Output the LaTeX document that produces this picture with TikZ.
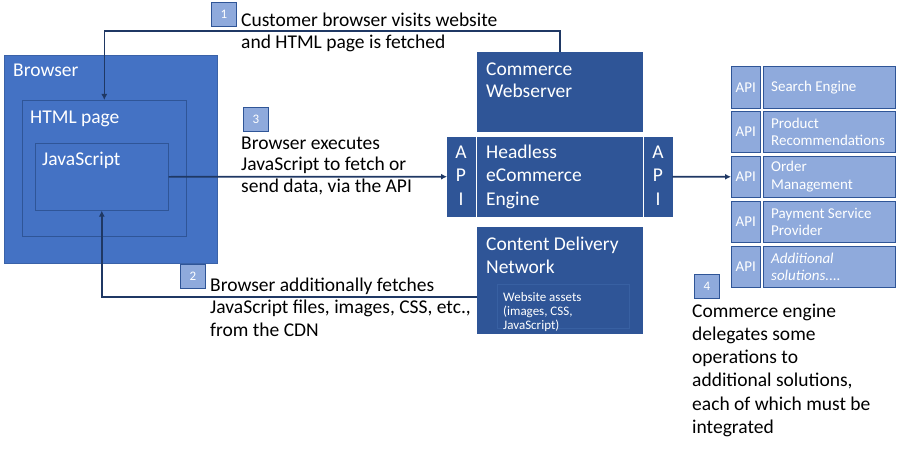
\documentclass[tikz,border=0pt]{standalone}
\usepackage{fontspec}
\setmainfont{Carlito}
\usetikzlibrary{arrows.meta,calc}
\definecolor{brblue}{HTML}{4472C4}
\definecolor{midblue}{HTML}{2F5597}
\definecolor{ltblue}{HTML}{8FAADC}
\definecolor{navy}{HTML}{1F3864}
\definecolor{edgeb}{HTML}{3A62A8}
\definecolor{faint}{HTML}{3860A2}
\begin{document}
\begin{tikzpicture}[x=1pt,y=-1pt,
  box/.style={draw=#1,fill=#1,minimum width=0pt,minimum height=0pt,inner sep=0pt,anchor=north west},
  frame/.style={draw=midblue,line width=0.6pt,inner sep=0pt,anchor=north west},
  wlbl/.style={text=white,font=\fontsize{19.5}{#1}\selectfont,align=left,inner sep=0pt,anchor=base west},
  wlbl/.default=23.2,
  slbl/.style={text=white,font=\fontsize{15}{17.5}\selectfont,align=left,inner sep=0pt,anchor=west},
  blbl/.style={text=black,font=\fontsize{19.5}{#1}\selectfont,align=left,inner sep=0pt,anchor=base west},
  blbl/.default=23.2,
  badge/.style={draw=midblue,fill=ltblue,line width=0.6pt,minimum width=25pt,minimum height=24pt,inner sep=0pt,anchor=north west,text=white,font=\fontsize{13}{15}\selectfont},
  svc/.style={draw=midblue,fill=ltblue,line width=0.6pt,inner sep=0pt,anchor=north west},
  conn/.style={draw=navy,line width=1.6pt},
  arr/.style={conn,-{Latex[length=6pt,width=6pt]}}
]
\useasboundingbox (0,0) rectangle (900,452);
% Browser
\node[box=brblue,draw=edgeb,minimum width=213pt,minimum height=208pt] (browser) at (4,55) {};
\node[wlbl] (tbrowser) at (13,77) {Browser};
\node[frame,minimum width=164pt,minimum height=136pt] (html) at (22,100) {};
\node[wlbl] (thtml) at (30,123) {HTML page};
\node[frame,minimum width=133pt,minimum height=67pt] (js) at (35,143) {};
\node[wlbl] (tjs) at (42,165) {JavaScript};
% middle
\node[box=midblue,minimum width=165pt,minimum height=79pt] (cws) at (477,52) {};
\node[wlbl=22] (tcws) at (486,97) {Commerce\\Webserver};
\node[box=midblue,minimum width=28pt,minimum height=79pt] (apil) at (447,137) {};
\node[wlbl=23.5,align=center,anchor=base] (tapil) at (461,205) {A\\P\\I};
\node[box=midblue,minimum width=165pt,minimum height=79pt] (hce) at (477,137) {};
\node[wlbl=23.5] (thce) at (486,205) {Headless\\eCommerce\\Engine};
\node[box=midblue,minimum width=28pt,minimum height=79pt] (apir) at (644,137) {};
\node[wlbl=23.5,align=center,anchor=base] (tapir) at (658,205) {A\\P\\I};
\node[box=midblue,minimum width=165pt,minimum height=106pt] (cdn) at (477,227) {};
\node[wlbl=23] (tcdn) at (486,273) {Content Delivery\\Network};
\node[draw=faint,line width=0.4pt,inner sep=0pt,anchor=north west,minimum width=132pt,minimum height=44pt] (assets) at (497,284) {};
\node[text=white,font=\fontsize{13}{14}\selectfont,align=left,inner sep=0pt,anchor=base west] (tassets) at (503,329) {Website assets\\(images, CSS,\\JavaScript)};
% services
\foreach \i/\ya/\yb/\t in {1/66/108/{Search Engine},2/111/152/{Product\\Recommendations},3/156/197/{Order\\Management},4/201/242/{Payment Service\\Provider},5/246/287/{\itshape Additional\\\itshape solutions....}}{
  \node[svc,minimum width=29pt,minimum height={\yb-\ya}] (api\i) at (731,\ya) {};
  \node[slbl,anchor=center] (tapi\i) at (api\i.center) {API};
  \node[svc,minimum width=132pt,minimum height={\yb-\ya}] (srv\i) at (763,\ya) {};
  \node[slbl] (tsrv\i) at ($(srv\i.west)+(8,0)$) {\t};
}
% badges and texts
\node[badge] (b1) at (211,2) {1};
\node[blbl=23] (t1) at (241,49) {Customer browser visits website\\and HTML page is fetched};
\node[badge] (b3) at (243,107) {3};
\node[blbl=21.7] (t3) at (241,192.4) {Browser executes\\JavaScript to fetch or\\send data, via the API};
\node[badge] (b2) at (180,264) {2};
\node[blbl=22.5] (t2) at (210,336) {Browser additionally fetches\\JavaScript files, images, CSS, etc.,\\from the CDN};
\node[badge] (b4) at (694,274) {4};
\node[blbl=23.3] (t4) at (692,433.5) {Commerce engine\\delegates some\\operations to\\additional solutions,\\each of which must be\\integrated};
% connectors
\draw[arr] (cws.north) -- ++(0,-21) -| (html.north);
\draw[arr] ($(cdn.north west)+(0,70)$) -| (js.south);
\draw[arr] (js.east) -- (apil.west);
\draw[arr] (apir.east) -- (api3.west);
\end{tikzpicture}
\end{document}
